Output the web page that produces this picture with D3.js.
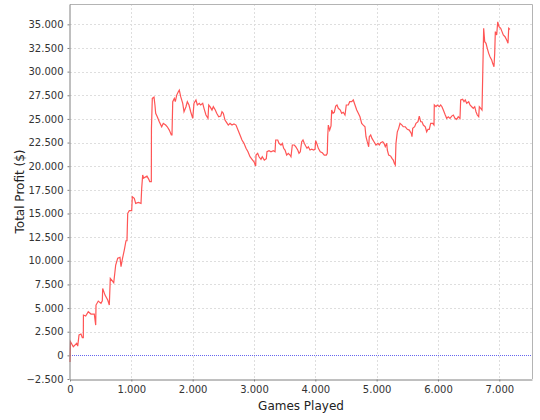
<!DOCTYPE html>
<html>
<head>
<meta charset="utf-8">
<script src="https://cdn.jsdelivr.net/npm/d3@7"></script>
<style>
  body { margin: 0; background: #fff; }
  svg { display: block; }
  .tick text { font-family: "DejaVu Sans", sans-serif; font-size: 10px; fill: #333; }
  .axis-title { font-family: "DejaVu Sans", sans-serif; font-size: 12px; fill: #222; }
</style>
</head>
<body>
<svg id="chart" width="540" height="420"></svg>
<script>
// 1. Data (games played, total profit in $)
var games = [0, 8, 54, 109, 126, 147, 179, 201, 217, 219, 256, 298, 342, 396, 419, 424, 461, 505, 527, 533,
    571, 615, 641, 657, 713, 745, 778, 815, 832, 853, 885, 913, 929, 941, 967, 1006, 1016, 1048, 1071, 1114,
    1158, 1169, 1185, 1200, 1255, 1285, 1300, 1326, 1328, 1342, 1370, 1385, 1397, 1423, 1456, 1495, 1521, 1560,
    1586, 1619, 1652, 1663, 1675, 1701, 1717, 1740, 1766, 1782, 1805, 1838, 1859, 1891, 1913, 1940, 1968, 2001,
    2022, 2054, 2076, 2108, 2131, 2164, 2185, 2217, 2250, 2262, 2283, 2315, 2337, 2369, 2392, 2425, 2457, 2478,
    2500, 2527, 2555, 2581, 2609, 2641, 2674, 2707, 2739, 2772, 2804, 2837, 2870, 2902, 2935, 2968, 3000, 3028,
    3033, 3060, 3082, 3114, 3135, 3168, 3201, 3212, 3245, 3277, 3315, 3343, 3354, 3387, 3408, 3440, 3462, 3484,
    3506, 3533, 3559, 3587, 3603, 3625, 3657, 3680, 3713, 3734, 3755, 3778, 3799, 3820, 3843, 3864, 3886, 3913,
    3941, 3974, 3995, 4006, 4027, 4049, 4081, 4114, 4146, 4179, 4195, 4202, 4212, 4234, 4256, 4267, 4288, 4309,
    4332, 4353, 4375, 4407, 4430, 4456, 4484, 4505, 4538, 4561, 4593, 4619, 4647, 4675, 4701, 4728, 4756, 4782,
    4810, 4826, 4847, 4870, 4880, 4903, 4924, 4957, 4989, 5022, 5043, 5066, 5099, 5120, 5141, 5164, 5174, 5196,
    5229, 5250, 5271, 5288, 5304, 5315, 5337, 5359, 5381, 5413, 5434, 5467, 5500, 5532, 5565, 5576, 5588, 5620,
    5641, 5674, 5695, 5718, 5739, 5761, 5793, 5816, 5837, 5858, 5881, 5914, 5935, 5940, 5968, 5989, 6021, 6044,
    6065, 6087, 6119, 6142, 6168, 6196, 6224, 6250, 6277, 6305, 6331, 6359, 6370, 6403, 6424, 6445, 6468, 6501,
    6522, 6550, 6576, 6599, 6620, 6641, 6664, 6674, 6697, 6718, 6745, 6762, 6783, 6804, 6827, 6848, 6876, 6892,
    6913, 6925, 6935, 6957, 6974, 6995, 7023, 7044, 7065, 7093, 7120, 7142, 7153, 7174];

var profit = [-700, 1450, 910, 1270, 980, 2150, 2250, 1860, 1860, 4260, 4160, 4610, 4370, 4370, 3200, 5320, 5740, 5500, 5770, 7080,
    6370, 5850, 5320, 8140, 7680, 9550, 10260, 10360, 9370, 10150, 11130, 12120, 12120, 15020, 15300, 15300, 16770, 16600, 16070, 16170,
    16070, 17660, 19070, 18750, 18950, 18610, 18360, 18360, 24000, 27170, 27300, 26470, 25590, 25230, 24700, 24170, 24530, 24350,
    24170, 23820, 23300, 23300, 26820, 27170, 26820, 27520, 27870, 28050, 27350, 26650, 25760, 26290, 26820, 26470, 25760, 25060,
    26650, 27000, 26470, 26650, 26470, 26650, 26120, 25410, 25060, 26470, 26300, 25940, 26290, 25940, 25590, 25230, 25300, 25760,
    25590, 24880, 24600, 24350, 24530, 24350, 24460, 24350, 23820, 23300, 22770, 22420, 21890, 21530, 21000, 20730, 20470, 20020,
    21180, 21360, 21000, 20730, 21000, 20650, 20800, 21530, 21640, 21530, 21640, 21530, 22770, 22770, 22420, 22240, 22420, 21890,
    21710, 21180, 21360, 21180, 21000, 22240, 22240, 22060, 21710, 21360, 21530, 22590, 22770, 22420, 22130, 21890, 22060, 21710,
    21800, 21710, 21800, 22700, 22340, 21890, 21530, 21420, 21180, 21180, 21360, 23120, 24350, 23820, 24250, 25940, 25590, 25700,
    26360, 26470, 26120, 25940, 25590, 25700, 25410, 26470, 26470, 26820, 26820, 27000, 26470, 25940, 25590, 25230, 24530, 24350,
    24170, 23120, 22590, 22060, 23120, 23300, 22940, 22590, 22240, 22420, 22240, 22480, 22590, 22420, 22060, 22420, 21710, 21180,
    21070, 20830, 20650, 20300, 20120, 22420, 23640, 24000, 24530, 24350, 24170, 24170, 23900, 23820, 23470, 23120, 24000, 24170,
    24530, 24700, 25300, 24700, 24700, 24350, 24170, 23640, 23900, 23900, 24530, 24530, 24350, 26470, 26290, 26470, 26290, 26470,
    26290, 25940, 25410, 25060, 25230, 25060, 25300, 25410, 25060, 24950, 25230, 25060, 27000, 27070, 26820, 27000, 26650, 26820,
    26470, 26290, 26120, 26290, 25760, 25410, 25230, 26290, 26120, 25940, 34580, 33160, 32990, 32460, 31930, 31580, 31230, 30880,
    30520, 31930, 34230, 33880, 35270, 34750, 34580, 34230, 33880, 33690, 33340, 32990, 34580, 34470];

var xTicks = [0, 1000, 2000, 3000, 4000, 5000, 6000, 7000];
var yTicks = [-2500, 0, 2500, 5000, 7500, 10000, 12500, 15000, 17500, 20000, 22500, 25000, 27500, 30000, 32500, 35000];

// 2. Layout
var plot = { left: 70, right: 532, top: 4, bottom: 379 };
var svg = d3.select("#chart");

var x = d3.scaleLinear().domain([0, 7533]).range([plot.left, plot.right]);
var y = d3.scaleLinear().domain([-2500, 37150]).range([plot.bottom, plot.top]);

// thousands with a dot, like the original
var fmt = d3.formatLocale({ decimal: ",", thousands: ".", grouping: [3], currency: ["", "$"] }).format(",d");

// 3. Grid
svg.append("g")
    .selectAll("line")
    .data(xTicks.slice(1))
    .enter()
    .append("line")
    .attr("x1", function (d) { return Math.round(x(d)) + 0.5 })
    .attr("x2", function (d) { return Math.round(x(d)) + 0.5 })
    .attr("y1", plot.top)
    .attr("y2", plot.bottom)
    .attr("stroke", "#dedede")
    .attr("stroke-dasharray", "2,2")

svg.append("g")
    .selectAll("line")
    .data(yTicks.filter(function (d) { return d !== 0 && d !== -2500 }))
    .enter()
    .append("line")
    .attr("x1", plot.left)
    .attr("x2", plot.right)
    .attr("y1", function (d) { return Math.round(y(d)) + 0.5 })
    .attr("y2", function (d) { return Math.round(y(d)) + 0.5 })
    .attr("stroke", "#dedede")
    .attr("stroke-dasharray", "2,2")

// zero marker line
svg.append("line")
    .attr("x1", plot.left)
    .attr("x2", plot.right)
    .attr("y1", Math.round(y(0)) + 0.5)
    .attr("y2", Math.round(y(0)) + 0.5)
    .attr("stroke", "#6666ee")
    .attr("stroke-dasharray", "1,1")

// plot outline (top / right)
svg.append("path")
    .attr("d", "M" + (plot.left) + "," + (plot.top + 0.5) + "H" + (plot.right + 0.5) + "V" + plot.bottom)
    .attr("fill", "none")
    .attr("stroke", "#b4b4b4")

// 4. Profit line
var line = d3.line()
    .x(function (d, i) { return x(games[i]) })
    .y(function (d) { return y(d) });

svg.append("path")
    .datum(profit)
    .attr("d", line)
    .attr("fill", "none")
    .attr("stroke", "#ff5555")
    .attr("stroke-width", 1.2)
    .attr("stroke-linejoin", "miter")

// 5. Axes
var xAxis = svg.append("g")
    .attr("transform", "translate(0," + (plot.bottom + 0.5) + ")")
    .call(d3.axisBottom(x).tickValues(xTicks).tickFormat(fmt).tickSizeInner(2).tickSizeOuter(0).tickPadding(4))

var yAxis = svg.append("g")
    .attr("transform", "translate(" + (plot.left - 0.5) + ",0)")
    .call(d3.axisLeft(y).tickValues(yTicks).tickFormat(fmt).tickSizeInner(2).tickSizeOuter(0).tickPadding(4))

svg.selectAll(".domain").attr("stroke", "#808080")
svg.selectAll(".tick line").attr("stroke", "#808080")

// 6. Axis titles
svg.append("text")
    .attr("class", "axis-title")
    .attr("x", (plot.left + plot.right) / 2)
    .attr("y", 410)
    .attr("text-anchor", "middle")
    .text("Games Played")

svg.append("text")
    .attr("class", "axis-title")
    .attr("transform", "translate(24," + ((plot.top + plot.bottom) / 2) + ") rotate(-90)")
    .attr("text-anchor", "middle")
    .text("Total Profit ($)")
</script>
</body>
</html>
